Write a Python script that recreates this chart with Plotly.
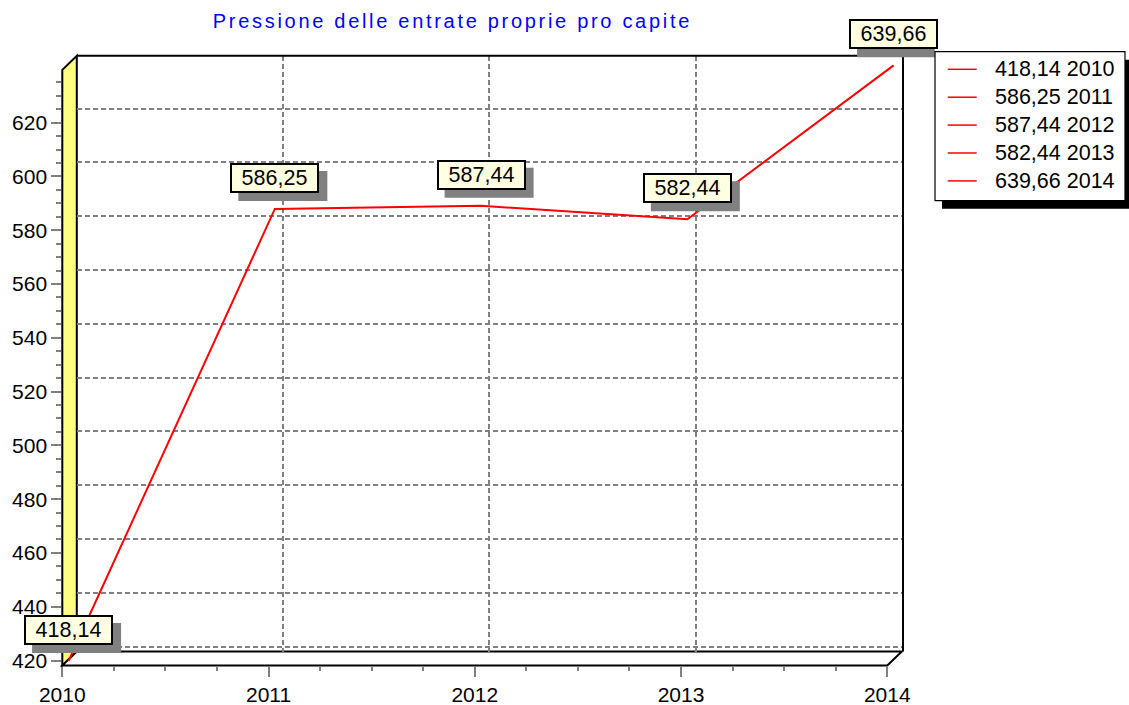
import plotly.graph_objects as go

# ---------------- data ----------------
years = [2010, 2011, 2012, 2013, 2014]
values = [418.14, 586.25, 587.44, 582.44, 639.66]
y_ticks = [420, 440, 460, 480, 500, 520, 540, 560, 580, 600, 620]
title_text = "Pressione delle entrate proprie pro capite"


def fmt(v):
    return f"{v:.2f}".replace(".", ",")


value_labels = [fmt(v) for v in values]
legend_labels = [f"{fmt(v)} {y}" for v, y in zip(values, years)]

# ---------------- geometry (pixels) ----------------
W, H = 1129, 705
PX0, PXS = 62.3, 206.25      # front plane: x of 2010, px per year
PY0, PYS = 660.5, 2.689      # front plane: y of 420, px per unit
DX, DY = 14.5, 14.0          # depth of the 3D box
MX, MY = 6.3, 4.5            # depth at which the series is drawn

FONT = "Liberation Sans, Arial, sans-serif"
X_RANGE = [years[0], years[-1]]
Y_RANGE = [min(values), max(values)]
MID_X_RANGE = [years[0] - 0.2, years[-1] + 0.2]
MID_Y_RANGE = [min(values) - 8, max(values) + 8]


def px(x):
    return PX0 + (x - 2010) * PXS


def py(y):
    return PY0 - (y - 420) * PYS


def xdom(r, off):
    return [(px(r[0]) + off) / W, (px(r[1]) + off) / W]


def ydom(r, off):
    return [1 - (py(r[0]) - off) / H, 1 - (py(r[1]) - off) / H]


def P(x, y):
    return f"{x / W:.6f},{1 - y / H:.6f}"


fx0, fx1 = px(X_RANGE[0]), px(X_RANGE[1])
fyb, fyt = py(Y_RANGE[0]), py(Y_RANGE[1])
bx0, bx1 = fx0 + DX, fx1 + DX
byb, byt = fyb - DY, fyt - DY

GRID = "#808080"

fig = go.Figure()
# invisible helper so that the front axes carry a subplot
fig.add_trace(go.Scatter(x=[years[0]], y=[values[0]], xaxis="x", yaxis="y", mode="markers",
                         marker=dict(opacity=0), showlegend=False, hoverinfo="skip"))
fig.add_trace(go.Scatter(
    x=years, y=values, xaxis="x3", yaxis="y3", mode="lines",
    line=dict(color="#ff0000", width=2), showlegend=False, hoverinfo="skip"))

shapes = []
# left wall (yellow)
shapes.append(dict(type="path", xref="paper", yref="paper", layer="below",
                   path=f"M{P(fx0, fyb)} L{P(fx0, fyt)} L{P(bx0, byt)} L{P(bx0, byb)} Z",
                   fillcolor="#ffff80", line=dict(color="black", width=2)))
# floor
shapes.append(dict(type="path", xref="paper", yref="paper", layer="below",
                   path=f"M{P(fx0, fyb)} L{P(fx1, fyb)} L{P(bx1, byb)} L{P(bx0, byb)} Z",
                   fillcolor="white", line=dict(color="black", width=2)))
# grid continuation on the left wall
for v in y_ticks:
    shapes.append(dict(type="line", xref="x2", yref="y2", layer="below",
                       xsizemode="pixel", ysizemode="pixel",
                       xanchor=X_RANGE[0], yanchor=v, x0=0, x1=-DX, y0=0, y1=-DY,
                       line=dict(color=GRID, width=1.5, dash="5px,3px")))
# grid continuation on the floor
for yr in years[1:-1]:
    shapes.append(dict(type="line", xref="x2", yref="y2", layer="below",
                       xsizemode="pixel", ysizemode="pixel",
                       xanchor=yr, yanchor=Y_RANGE[0], x0=0, x1=-DX, y0=0, y1=-DY,
                       line=dict(color=GRID, width=1.5, dash="5px,3px")))
# back wall frame
shapes.append(dict(type="line", xref="paper", yref="paper", layer="above",
                   x0=bx0 / W, x1=(bx1 + 1.2) / W, y0=1 - byt / H, y1=1 - byt / H,
                   line=dict(color="black", width=2)))
shapes.append(dict(type="line", xref="paper", yref="paper", layer="above",
                   x0=(bx1 + 1.2) / W, x1=(bx1 + 1.2) / W, y0=1 - byt / H, y1=1 - byb / H,
                   line=dict(color="black", width=2)))

annotations = []
# data marks (boxes with shadows)
BOX_W, BOX_H, BOX_GAP, SH = 89, 30, 16, 8
for yr, v, t in zip(years, values, value_labels):
    shapes.append(dict(type="rect", xref="x3", yref="y3", layer="above",
                       xsizemode="pixel", ysizemode="pixel", xanchor=yr, yanchor=v,
                       x0=-BOX_W / 2 + SH, x1=BOX_W / 2 + SH,
                       y0=BOX_GAP - SH, y1=BOX_GAP + BOX_H - SH,
                       fillcolor="#808080", line=dict(width=0)))
    annotations.append(dict(xref="x3", yref="y3", x=yr, y=v, text=t, showarrow=False,
                            xanchor="center", yanchor="bottom", yshift=BOX_GAP,
                            width=BOX_W - 4, height=BOX_H - 4, borderpad=0, borderwidth=2,
                            bordercolor="black", bgcolor="#ffffe1",
                            font=dict(family=FONT, size=21.5, color="black")))

# legend (box + shadow + entries)
LX0, LY0, LX1, LY1 = 935, 51.7, 1125, 200.7
shapes.append(dict(type="rect", xref="paper", yref="paper", layer="above",
                   x0=(LX0 + 7) / W, x1=(LX1 + 8) / W, y0=1 - (LY0 + 8) / H, y1=1 - (LY1 + 8) / H,
                   fillcolor="black", line=dict(width=0)))
shapes.append(dict(type="rect", xref="paper", yref="paper", layer="above",
                   x0=LX0 / W, x1=LX1 / W, y0=1 - LY0 / H, y1=1 - LY1 / H,
                   fillcolor="white", line=dict(color="black", width=1.2)))
for i, lab in enumerate(legend_labels):
    yy = 69.3 + i * 27.9
    shapes.append(dict(type="line", xref="paper", yref="paper", layer="above",
                       x0=947.7 / W, x1=976.7 / W, y0=1 - yy / H, y1=1 - yy / H,
                       line=dict(color="#ff0000", width=1.5)))
    annotations.append(dict(xref="paper", yref="paper", x=994.5 / W, y=1 - yy / H,
                            text=lab, showarrow=False, xanchor="left", yanchor="middle",
                            borderpad=0, borderwidth=0,
                            font=dict(family=FONT, size=21.5, color="black")))

tickfont = dict(family=FONT, size=21, color="black")

fig.update_layout(
    width=W, height=H, margin=dict(l=0, r=0, t=0, b=0, autoexpand=False),
    paper_bgcolor="white", plot_bgcolor="rgba(0,0,0,0)",
    showlegend=False,
    title=dict(text=title_text, x=452.4 / W, xanchor="center", y=1 - 20.8 / H, yanchor="middle",
               automargin=False,
               font=dict(family=FONT, size=20, color="#0000ff")),
    xaxis=dict(domain=xdom(X_RANGE, 0), range=X_RANGE, anchor="y", automargin=False,
               tickmode="linear", tick0=2010, dtick=1, tickformat="d",
               ticks="outside", ticklen=10, tickwidth=1.5, tickcolor=GRID,
               minor=dict(dtick=0.25, tick0=2010, ticks="outside", ticklen=4,
                          tickwidth=1.5, tickcolor=GRID, showgrid=False),
               showgrid=False, zeroline=False, showline=False, tickfont=tickfont),
    yaxis=dict(domain=ydom(Y_RANGE, 0), range=Y_RANGE, anchor="x", automargin=False,
               tickmode="linear", tick0=420, dtick=20, tickformat="d",
               ticks="outside", ticklen=10, tickwidth=1.5, tickcolor=GRID,
               minor=dict(dtick=5, tick0=420, ticks="outside", ticklen=5,
                          tickwidth=1.5, tickcolor=GRID, showgrid=False),
               showgrid=False, zeroline=False, showline=False, tickfont=tickfont),
    xaxis2=dict(domain=xdom(X_RANGE, DX), range=X_RANGE, anchor="y2", automargin=False,
                tickmode="linear", tick0=2010, dtick=1, showticklabels=False, ticks="",
                showgrid=True, gridcolor=GRID, gridwidth=1.5, griddash="5px,3px",
                zeroline=False, showline=False),
    yaxis2=dict(domain=ydom(Y_RANGE, DY), range=Y_RANGE, anchor="x2", automargin=False,
                tickmode="linear", tick0=420, dtick=20, showticklabels=False, ticks="",
                showgrid=True, gridcolor=GRID, gridwidth=1.5, griddash="5px,3px",
                zeroline=False, showline=False),
    xaxis3=dict(domain=xdom(MID_X_RANGE, MX), range=MID_X_RANGE, anchor="y3", automargin=False,
                visible=False, showgrid=False, zeroline=False),
    yaxis3=dict(domain=ydom(MID_Y_RANGE, MY), range=MID_Y_RANGE, anchor="x3", automargin=False,
                visible=False, showgrid=False, zeroline=False),
    shapes=shapes,
    annotations=annotations,
)

post = """
document.documentElement.style.margin = '0';
document.body.style.margin = '0';
document.body.style.overflow = 'hidden';
var gd = document.getElementById('{plot_id}');
function sp(){
  var t = gd.querySelectorAll('.gtitle');
  for (var i = 0; i < t.length; i++) { t[i].style.letterSpacing = '2.7px'; }
}
sp();
if (gd.on) { gd.on('plotly_afterplot', sp); }
"""

fig.write_html("out.html", post_script=post, config={"displayModeBar": False})
